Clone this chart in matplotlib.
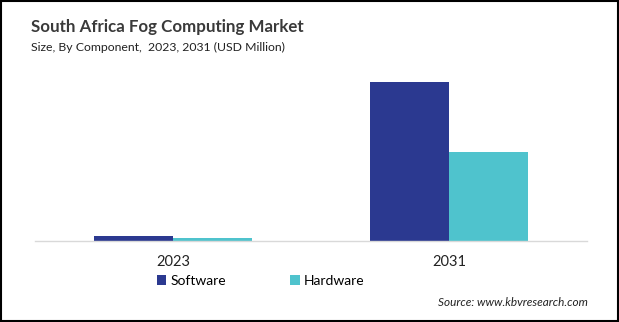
import numpy as np
import matplotlib.pyplot as plt
from matplotlib.patches import Rectangle

plt.rcParams['font.family'] = ['Lato', 'DejaVu Sans']

years = ['2023', '2031']
components = ['Software', 'Hardware']
software = [5.0, 159.0]
hardware = [3.0, 89.0]
colors = ['#2B3990', '#4FC3CD']

fig = plt.figure(figsize=(6.19, 3.22), dpi=100)
ax = fig.add_axes([35 / 619, 1 - 241 / 322, 552 / 619, 180 / 322])

x = np.arange(len(years))
w = 0.286
ax.bar(x - w / 2, software, width=w, color=colors[0], label=components[0])
ax.bar(x + w / 2, hardware, width=w, color=colors[1], label=components[1])

ax.set_xlim(-0.5, 1.5)
ax.set_ylim(0, 180)
ax.set_xticks(x)
ax.set_xticklabels(years, fontsize=10.5, color='#222222')
ax.tick_params(axis='x', length=0, pad=10)
ax.set_yticks([])
for side in ['top', 'right', 'left']:
    ax.spines[side].set_visible(False)
ax.spines['bottom'].set_color('#d9d9d9')
ax.spines['bottom'].set_linewidth(1)

# title block
fig.text(31 / 619, 1 - 27 / 322, 'South Africa Fog Computing Market',
         fontsize=12.2, fontweight='bold', color='#3a3a3a', va='center')
fig.text(31 / 619, 1 - 47 / 322, 'Size, By Component,  2023, 2031 (USD Million)',
         fontsize=8.8, color='#222222', va='center')

# legend
leg = fig.legend(loc='center left', bbox_to_anchor=(144 / 619, 1 - 281 / 322),
                 ncol=2, frameon=False, fontsize=10, handlelength=0.7,
                 handleheight=0.7, handletextpad=0.3, columnspacing=4.6)

fig.text(588 / 619, 1 - 302 / 322, 'Source: www.kbvresearch.com',
         fontsize=8.5, style='italic', color='#222222', ha='right', va='center')

# outer frame
fig.patches.append(Rectangle((0.001, 0.002), 0.997, 0.996, transform=fig.transFigure,
                             fill=False, edgecolor='black', linewidth=1.5))

fig.savefig('out.png', dpi=100)
